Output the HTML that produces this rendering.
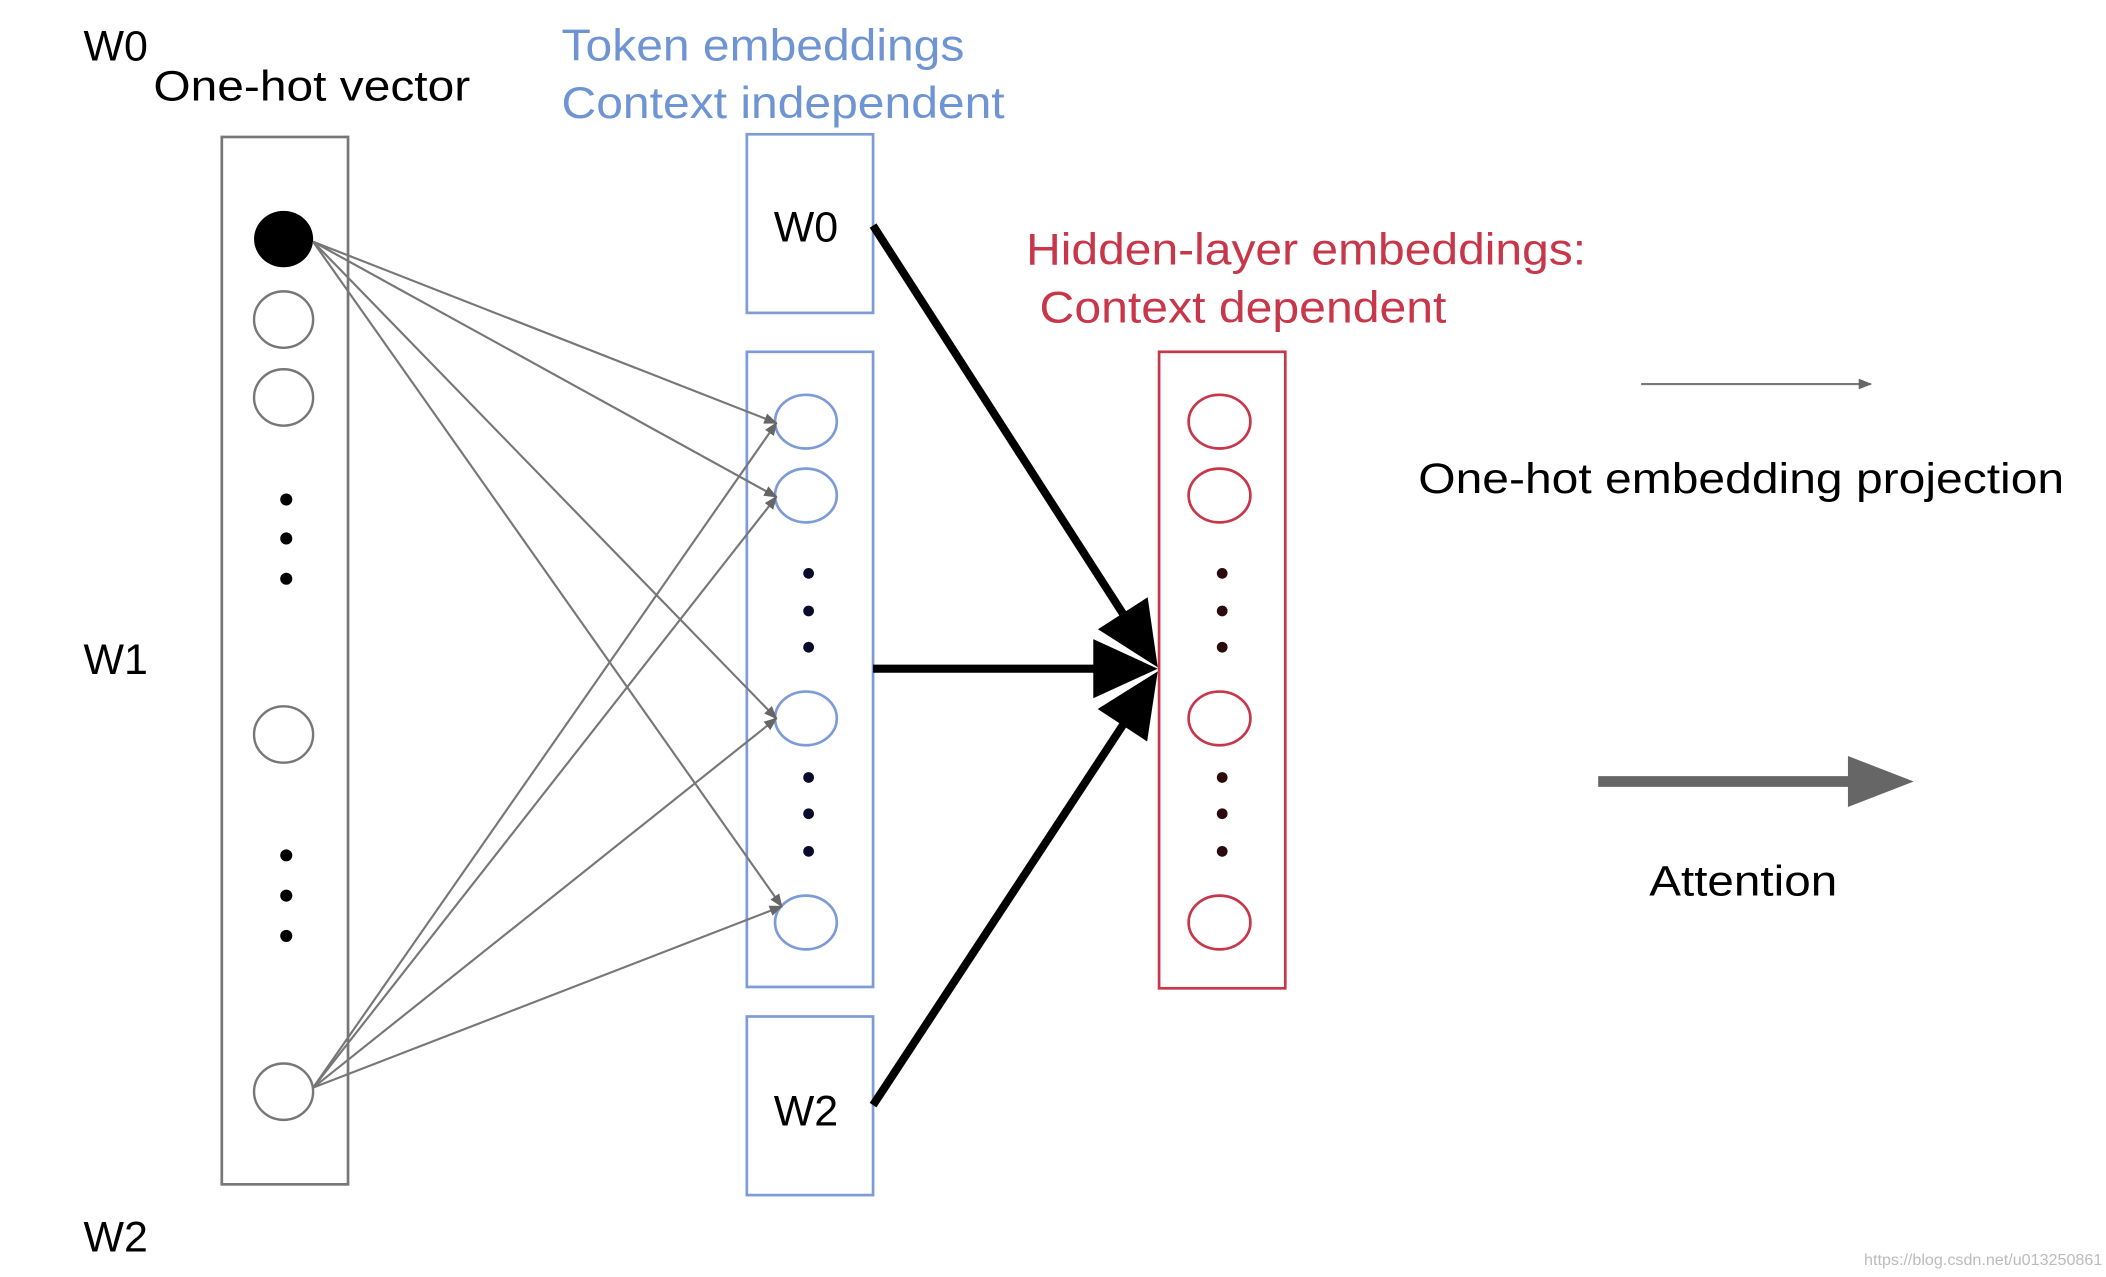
<!DOCTYPE html>
<html><head><meta charset="utf-8"><style>
html,body{margin:0;padding:0;background:#fff;}
svg{display:block;}
text{font-family:"Liberation Sans",Arial,sans-serif;}
</style></head><body>
<svg width="2106" height="1277" viewBox="0 0 1568 951" xmlns="http://www.w3.org/2000/svg">
<defs>
<marker id="g" markerWidth="10" markerHeight="8" refX="9" refY="4" orient="auto" markerUnits="userSpaceOnUse">
<path d="M0,0 L10,4 L0,8 Z" fill="#666"/>
</marker>
</defs>
<rect width="1568" height="951" fill="#fff"/>
<!-- labels -->
<text x="62" y="45" font-size="32" fill="#000">W0</text>
<text x="114" y="75" font-size="32" fill="#000" textLength="236" lengthAdjust="spacingAndGlyphs">One-hot vector</text>
<text x="62" y="502" font-size="32" fill="#000">W1</text>
<text x="62" y="932" font-size="32" fill="#000">W2</text>
<text x="418" y="45" font-size="33" fill="#6f94d4" textLength="300" lengthAdjust="spacingAndGlyphs">Token embeddings</text>
<text x="418" y="88" font-size="33" fill="#6f94d4" textLength="330" lengthAdjust="spacingAndGlyphs">Context independent</text>
<text x="764" y="197" font-size="33" fill="#c8364a" textLength="417" lengthAdjust="spacingAndGlyphs">Hidden-layer embeddings:</text>
<text x="774" y="240" font-size="33" fill="#c8364a" textLength="303" lengthAdjust="spacingAndGlyphs">Context dependent</text>
<text x="1056" y="367" font-size="32" fill="#000" textLength="481" lengthAdjust="spacingAndGlyphs">One-hot embedding projection</text>
<text x="1228" y="667" font-size="32" fill="#000" textLength="140" lengthAdjust="spacingAndGlyphs">Attention</text>
<text x="1388" y="942" font-size="12" fill="#bbb">https://blog.csdn.net/u013250861</text>

<!-- left box -->
<rect x="165" y="102" width="94" height="780" fill="none" stroke="#777" stroke-width="2"/>
<ellipse cx="211" cy="178" rx="22" ry="21" fill="#000"/>
<g fill="none" stroke="#777" stroke-width="1.8">
<ellipse cx="211" cy="238" rx="22" ry="21"/>
<ellipse cx="211" cy="296" rx="22" ry="21"/>
<ellipse cx="211" cy="547" rx="22" ry="21"/>
<ellipse cx="211" cy="813" rx="22" ry="21"/>
</g>
<g fill="#000">
<circle cx="213" cy="372" r="4.5"/><circle cx="213" cy="401" r="4.5"/><circle cx="213" cy="431" r="4.5"/>
<circle cx="213" cy="637" r="4.5"/><circle cx="213" cy="667" r="4.5"/><circle cx="213" cy="697" r="4.5"/>
</g>

<!-- blue boxes -->
<g fill="none" stroke="#7d9bd6" stroke-width="2">
<rect x="556" y="100" width="94" height="133"/>
<rect x="556" y="262" width="94" height="473"/>
<rect x="556" y="757" width="94" height="133"/>
<ellipse cx="600" cy="314" rx="23" ry="20"/>
<ellipse cx="600" cy="369" rx="23" ry="20"/>
<ellipse cx="600" cy="535" rx="23" ry="20"/>
<ellipse cx="600" cy="687" rx="23" ry="20"/>
</g>
<text x="600" y="180" font-size="32" fill="#000" text-anchor="middle">W0</text>
<text x="600" y="838" font-size="32" fill="#000" text-anchor="middle">W2</text>
<g fill="#0a0a2a">
<circle cx="602" cy="427" r="4"/><circle cx="602" cy="455" r="4"/><circle cx="602" cy="482" r="4"/>
<circle cx="602" cy="579" r="4"/><circle cx="602" cy="606" r="4"/><circle cx="602" cy="634" r="4"/>
</g>

<!-- red box -->
<g fill="none" stroke="#c8364a" stroke-width="2">
<rect x="863" y="262" width="94" height="474"/>
<ellipse cx="908" cy="314" rx="23" ry="20"/>
<ellipse cx="908" cy="369" rx="23" ry="20"/>
<ellipse cx="908" cy="535" rx="23" ry="20"/>
<ellipse cx="908" cy="687" rx="23" ry="20"/>
</g>
<g fill="#2a0a0a">
<circle cx="910" cy="427" r="4"/><circle cx="910" cy="455" r="4"/><circle cx="910" cy="482" r="4"/>
<circle cx="910" cy="579" r="4"/><circle cx="910" cy="606" r="4"/><circle cx="910" cy="634" r="4"/>
</g>

<!-- gray thin arrows -->
<g stroke="#777" stroke-width="1.6" fill="none" marker-end="url(#g)">
<line x1="233" y1="180" x2="578" y2="315"/>
<line x1="233" y1="180" x2="578" y2="370"/>
<line x1="233" y1="180" x2="578" y2="535"/>
<line x1="233" y1="180" x2="582" y2="675"/>
<line x1="233" y1="810" x2="578" y2="315"/>
<line x1="233" y1="810" x2="578" y2="370"/>
<line x1="233" y1="810" x2="578" y2="535"/>
<line x1="233" y1="810" x2="582" y2="675"/>
</g>

<!-- thick black arrows -->
<g stroke="#000" stroke-width="6" fill="none">
<line x1="650" y1="168" x2="838" y2="460"/>
<line x1="650" y1="498" x2="818" y2="498"/>
<line x1="650" y1="823" x2="838" y2="537"/>
</g>
<g fill="#000">
<polygon points="862,497 817.5,468.6 854.5,444.8"/>
<polygon points="862,498 814,476 814,520"/>
<polygon points="862,500 854.1,552.2 817.3,528"/>
</g>

<!-- legend -->
<line x1="1222" y1="286" x2="1393" y2="286" stroke="#777" stroke-width="1.6" marker-end="url(#g)"/>
<line x1="1190" y1="582" x2="1380" y2="582" stroke="#666" stroke-width="8"/>
<polygon points="1425,582 1376,563 1376,601" fill="#666"/>
</svg>
</body></html>
